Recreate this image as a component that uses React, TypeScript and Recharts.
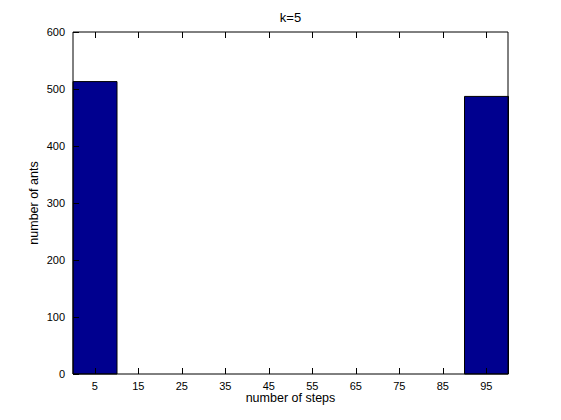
import { Bar, BarChart, XAxis, YAxis } from "recharts";

const bins = [5, 15, 25, 35, 45, 55, 65, 75, 85, 95];
const counts = [513, 0, 0, 0, 0, 0, 0, 0, 0, 487];
const yTicks = [0, 100, 200, 300, 400, 500, 600];

const data = bins.map((b, i) => ({ bin: b, count: counts[i] }));

const FONT = "Arial, 'Liberation Sans', sans-serif";
const labelStyle = { fontSize: 12.5, fill: "#000", fontFamily: FONT };

// snap to pixel centre so 1px tick marks stay crisp
const px = (v: any) => Math.round(Number(v)) + 0.5;

// MATLAB style: tick marks point into the plot box
const BottomTick = (props: any) => {
  const x = Number(props.x);
  const y = Number(props.y);
  return (
    <g>
      <path d={`M${px(x)},${y - 8}V${y - 14}`} stroke="#000" strokeWidth={1} fill="none" />
      <text x={x} y={y} dy="0.71em" textAnchor="middle" fontSize={11} fontFamily={FONT} fill="#000">
        {props.payload.value}
      </text>
    </g>
  );
};

const LeftTick = (props: any) => {
  const x = Number(props.x);
  const y = Number(props.y);
  return (
    <g>
      <path d={`M${x + 8},${px(y)}H${x + 14}`} stroke="#000" strokeWidth={1} fill="none" />
      <text x={x} y={y} dy="0.355em" textAnchor="end" fontSize={11} fontFamily={FONT} fill="#000">
        {props.payload.value}
      </text>
    </g>
  );
};

const TopTick = (props: any) => {
  const x = Number(props.x);
  const y = Number(props.y);
  return <path d={`M${px(x)},${y}V${y + 6}`} stroke="#000" strokeWidth={1} fill="none" />;
};

const RightTick = (props: any) => {
  const x = Number(props.x);
  const y = Number(props.y);
  return <path d={`M${x},${px(y)}H${x - 6}`} stroke="#000" strokeWidth={1} fill="none" />;
};

export default function App() {
  return (
    <div style={{ position: "fixed", left: 0, top: 0, background: "#fff" }}>
      <BarChart
        width={561}
        height={420}
        data={data}
        margin={{ top: 31, right: 52, left: 0, bottom: 0 }}
        barCategoryGap={0}
        barGap={0}
      >
        <XAxis
          dataKey="bin"
          stroke="#000"
          tick={<BottomTick />}
          tickLine={false}
          tickSize={0}
          tickMargin={8}
          height={46}
          interval={0}
          label={{ value: "number of steps", position: "insideBottom", offset: 18, style: labelStyle }}
        />
        <XAxis
          xAxisId="top"
          dataKey="bin"
          orientation="top"
          stroke="#000"
          tick={<TopTick />}
          tickLine={false}
          tickSize={0}
          tickMargin={0}
          height={1}
          interval={0}
          label={{ value: "k=5", position: "top", offset: 9, style: { ...labelStyle, fontSize: 13 } }}
        />
        <YAxis
          domain={[0, 600]}
          ticks={yTicks}
          stroke="#000"
          tick={<LeftTick />}
          tickLine={false}
          tickSize={0}
          tickMargin={8}
          width={73}
          interval={0}
          label={{
            value: "number of ants",
            angle: -90,
            position: "insideLeft",
            offset: 34,
            style: { ...labelStyle, textAnchor: "middle" },
          }}
        />
        <YAxis
          yAxisId="right"
          orientation="right"
          domain={[0, 600]}
          ticks={yTicks}
          stroke="#000"
          tick={<RightTick />}
          tickLine={false}
          tickSize={0}
          tickMargin={0}
          width={1}
          interval={0}
        />
        <Bar dataKey="count" fill="#00008f" stroke="#000" strokeWidth={1} isAnimationActive={false} />
      </BarChart>
    </div>
  );
}
